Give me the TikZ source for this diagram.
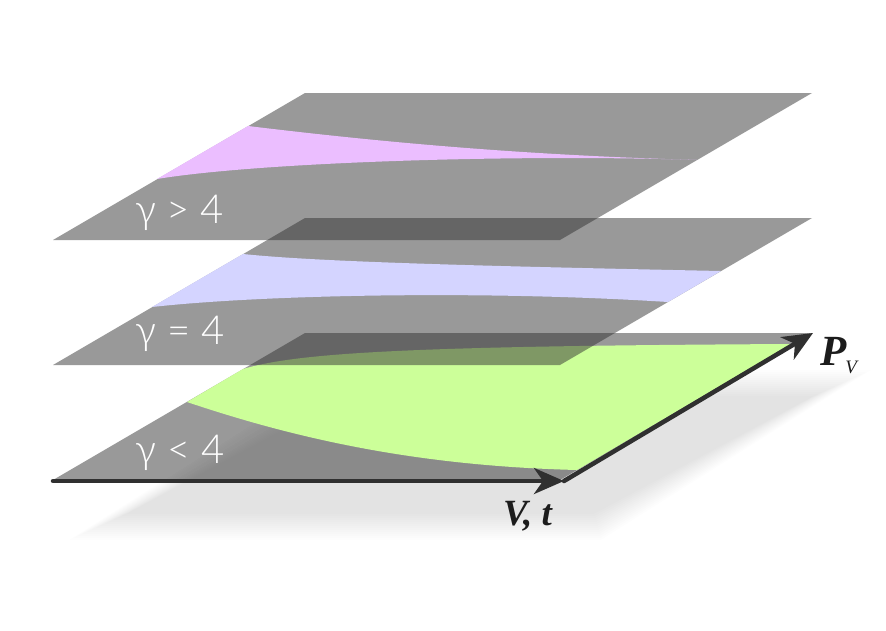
\documentclass[tikz,border=0pt]{standalone}
\usepackage{fontspec}
\setmainfont{Lato}
\newfontfamily\glfont{Lato}[UprightFont={* Light}]
\newfontfamily\serifbi{Liberation Serif}
\usetikzlibrary{arrows.meta}
\definecolor{planegray}{HTML}{333333}
\definecolor{axisgray}{HTML}{303030}
\definecolor{pinkreg}{HTML}{EBBEFF}
\definecolor{bluereg}{HTML}{D4D4FF}
\definecolor{greenreg}{HTML}{CCFF99}
\definecolor{labelink}{HTML}{1C1C1C}
\begin{document}
\begin{tikzpicture}[x=1pt,y=-1pt,
  plane/.style={fill=planegray, fill opacity=0.5},
  axis/.style={line width=4.5pt, draw=axisgray, line cap=round, -{Stealth[length=30pt,width=26pt,inset=9pt]}},
  glabel/.style={text=white, font=\glfont\fontsize{40}{46}\selectfont, inner sep=0pt, anchor=base west},
  alabel/.style={text=labelink, inner sep=0pt, anchor=base west}]
\path[use as bounding box] (0,0) rectangle (886,630);

% soft shadow below the lowest plane
\foreach \d in {-12,-10,...,14} {
  \fill[black, opacity=0.008] ({100-2.2*\d},{526+\d}) -- ({597+0.27*\d},{526+\d})
     -- ({840+2.2*\d},{384-\d}) -- ({342-0.27*\d},{384-\d}) -- cycle;
}

% bottom plane
\fill[plane] (53,480) -- (560,480) -- (812,333) -- (305,333) -- cycle;
% green region
\fill[greenreg] (243,369) .. controls (300,352) and (420,346) .. (791,344)
   -- (577,470) .. controls (420,466) and (300,440) .. (187,402) -- cycle;

% middle plane
\fill[plane] (53,365) -- (560,365) -- (812,218) -- (305,218) -- cycle;
% blue region
\fill[bluereg] (243,254) .. controls (320,262) and (480,266) .. (721,271)
   -- (668,302) .. controls (480,290) and (260,295) .. (152,307) -- cycle;

% top plane
\fill[plane] (53,240) -- (560,240) -- (812,93) -- (305,93) -- cycle;
% pink region
\fill[pinkreg] (248,126) .. controls (380,142) and (520,155) .. (697,160)
   .. controls (520,154) and (260,162) .. (157,179) -- cycle;

% axes
\coordinate (O) at (53,481);
\coordinate (X) at (564,481);
\coordinate (Y) at (813,333);
\draw[axis] (O) -- (X);
\draw[axis] (X) -- (Y);

% labels
\node[glabel] (g1) at (135,223) {γ\hspace{10pt}> 4};
\node[glabel] (g2) at (135,344) {γ = 4};
\node[glabel] (g3) at (135,463) {γ < 4};
\node[alabel, font=\serifbi\bfseries\itshape\fontsize{37}{42}\selectfont] (vt) at (503,525) {V, t};
\node[alabel, font=\serifbi\bfseries\itshape\fontsize{43}{48}\selectfont] (pv) at (820,365)
  {P\kern-1pt\raisebox{-8pt}{\serifbi\mdseries\itshape\fontsize{19}{19}\selectfont V}};
\end{tikzpicture}
\end{document}
